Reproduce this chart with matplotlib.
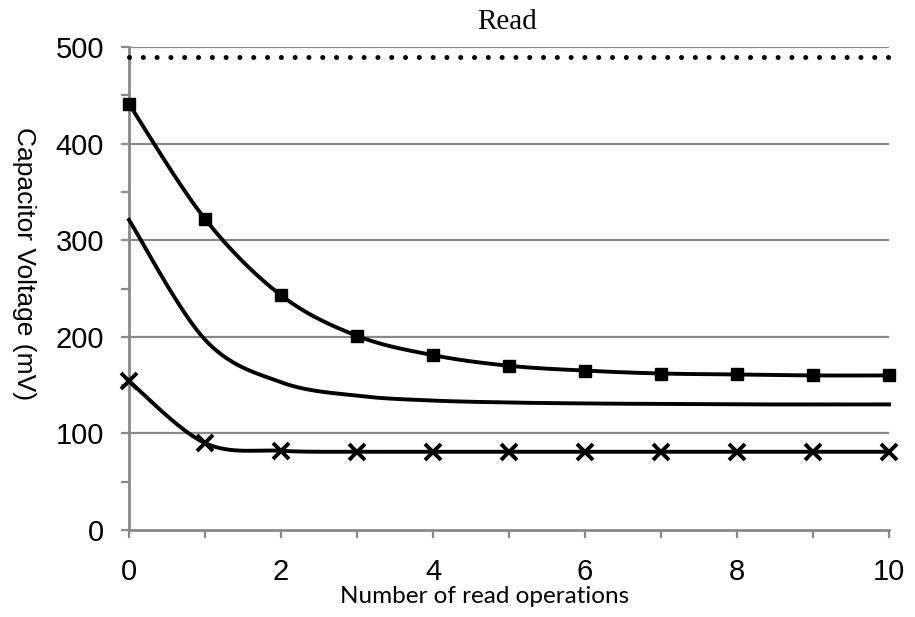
import numpy as np
import matplotlib
matplotlib.use("Agg")
import matplotlib.pyplot as plt

# ---- data ----
reads = [0, 1, 2, 3, 4, 5, 6, 7, 8, 9, 10]
ref_level = [490, 490, 490, 490, 490, 490, 490, 490, 490, 490, 490]
series_square = [441, 322, 243, 201, 181, 170, 165, 162, 161, 160, 160]
series_plain = [321, 197, 153, 139, 134, 132, 131, 130.5, 130, 130, 130]
series_cross = [154, 90, 82, 81, 81, 81, 81, 81, 81, 81, 81]
x_tick_labels = ["0", "2", "4", "6", "8", "10"]
y_ticks = [0, 100, 200, 300, 400, 500]
title = "Read"
xlabel = "Number of read operations"
ylabel = "Capacitor Voltage (mV)"


def smooth(xs, ys, n=40):
    """Catmull-Rom smoothing (like spreadsheet smoothed lines)."""
    xs = np.asarray(xs, float)
    ys = np.asarray(ys, float)
    px = np.concatenate([[xs[0]], xs, [xs[-1]]])
    py = np.concatenate([[ys[0]], ys, [ys[-1]]])
    ox, oy = [], []
    for i in range(1, len(px) - 2):
        p0 = np.array([px[i - 1], py[i - 1]])
        p1 = np.array([px[i], py[i]])
        p2 = np.array([px[i + 1], py[i + 1]])
        p3 = np.array([px[i + 2], py[i + 2]])
        c1 = p1 + (p2 - p0) / 6.0
        c2 = p2 - (p3 - p1) / 6.0
        t = np.linspace(0, 1, n)[:, None]
        pts = ((1 - t) ** 3) * p1 + 3 * ((1 - t) ** 2) * t * c1 + 3 * (1 - t) * t ** 2 * c2 + t ** 3 * p2
        ox.extend(pts[:, 0])
        oy.extend(pts[:, 1])
    return np.array(ox), np.array(oy)


fig = plt.figure(figsize=(9.15, 6.17), dpi=100)
ax = fig.add_axes([129 / 915, 1 - 530 / 617, (889 - 129) / 915, (530 - 47) / 617])

grid_c = "#898989"
for yv in y_ticks[1:]:
    ax.axhline(yv, color=grid_c, lw=1.6, zorder=1)

# dotted reference level
ax.plot(reads, ref_level, color="black", lw=3.6, linestyle=(0, (0.01, 2.75)),
        dash_capstyle="round", zorder=3, clip_on=False)

sx, sy = smooth(reads, series_square)
ax.plot(sx, sy, color="black", lw=2.8, zorder=3, clip_on=False)
ax.plot(reads, series_square, linestyle="none", marker="s", ms=9, color="black",
        zorder=4, clip_on=False)

sx, sy = smooth(reads, series_plain)
ax.plot(sx, sy, color="black", lw=2.8, zorder=3, clip_on=False)

sx, sy = smooth(reads, series_cross)
ax.plot(sx, sy, color="black", lw=2.8, zorder=3, clip_on=False)
ax.plot(reads, series_cross, linestyle="none", marker="x", ms=11, mew=2.8, color="black",
        zorder=4, clip_on=False)

ax.set_xlim(0, 10)
ax.set_ylim(0, 500)
ax.set_xticks([0, 2, 4, 6, 8, 10])
ax.set_xticklabels(x_tick_labels)
ax.set_xticks([1, 3, 5, 7, 9], minor=True)
ax.set_yticks(y_ticks)
ax.set_yticks([50, 150, 250, 350, 450], minor=True)

for s in ["top", "right"]:
    ax.spines[s].set_visible(False)
for s in ["left", "bottom"]:
    ax.spines[s].set_color(grid_c)
    ax.spines[s].set_linewidth(2.0)

ax.tick_params(axis="both", which="both", direction="out", color=grid_c, width=1.6, length=6)
ax.tick_params(axis="y", which="major", labelsize=21, pad=12)
ax.tick_params(axis="x", which="major", labelsize=21, pad=14)
for lab in ax.get_xticklabels() + ax.get_yticklabels():
    lab.set_family("Liberation Sans")

fig.text(507 / 915, 1 - 29 / 617, title, ha="center", va="baseline",
         family="Liberation Serif", fontsize=21)
fig.text(485 / 915, 1 - 603 / 617, xlabel, ha="center", va="baseline",
         family="Lato", fontsize=17.5)
fig.text(24 / 915, 1 - 264 / 617, ylabel, ha="center", va="center", rotation=-90,
         family="Liberation Sans", fontsize=19)

fig.savefig("out.png", dpi=100)
